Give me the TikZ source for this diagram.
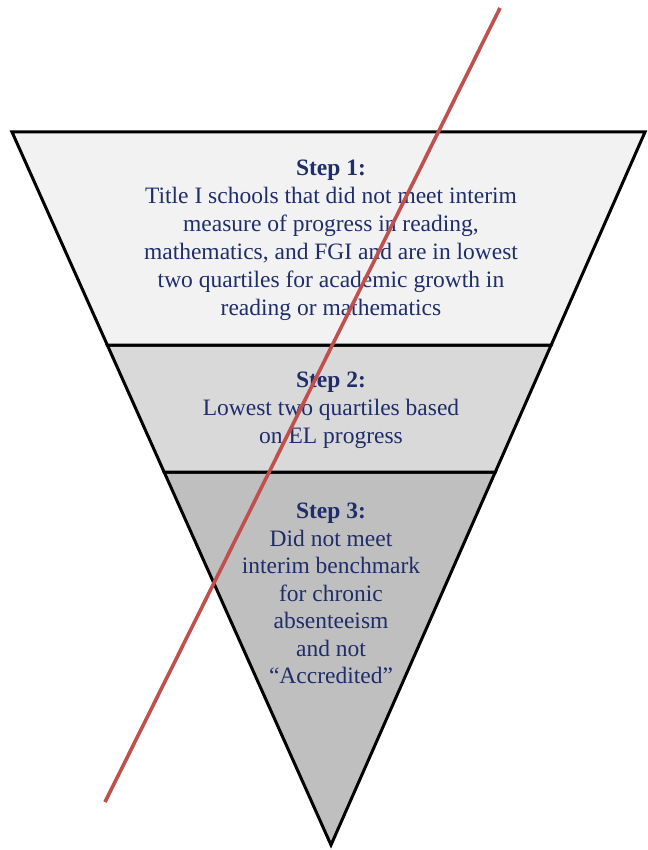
\documentclass[tikz,border=0pt]{standalone}
\usepackage{fontspec}
\setmainfont{Liberation Serif}
\definecolor{txt}{HTML}{1F2D6B}
\definecolor{bandA}{HTML}{F2F2F2}
\definecolor{bandB}{HTML}{D9D9D9}
\definecolor{bandC}{HTML}{BFBFBF}
\definecolor{slash}{HTML}{C0504D}
\begin{document}
\begin{tikzpicture}[x=1pt,y=-1pt,
  band/.style={draw=black,line width=3pt,line join=miter},
  steptext/.style={text=txt,align=center,inner sep=0pt,anchor=north,font=\fontsize{23.5}{28}\selectfont},
  slashline/.style={draw=slash,line width=3.6pt}]
\useasboundingbox (0,0) rectangle (647,850);
\filldraw[band,fill=bandC] (164.1,472) -- (495.3,472) -- (331,845) -- cycle;
\filldraw[band,fill=bandB] (107.3,345) -- (551.2,345) -- (495.3,472) -- (164.1,472) -- cycle;
\filldraw[band,fill=bandA] (12,132) -- (645,132) -- (551.2,345) -- (107.3,345) -- cycle;
\node[steptext] (s1) at (331,160) {\textbf{Step 1:}\\Title I schools that did not meet interim\\measure of progress in reading,\\mathematics, and FGI and are in lowest\\two quartiles for academic growth in\\reading or mathematics};
\node[steptext] (s2) at (331,372) {\textbf{Step 2:}\\Lowest two quartiles based\\on EL progress};
\node[steptext,font=\fontsize{23.5}{27.5}\selectfont] (s3) at (331,503) {\textbf{Step 3:}\\Did not meet\\interim benchmark\\for chronic\\absenteeism\\and not\\“Accredited”};
\coordinate (r1) at (500,8);
\coordinate (r2) at (105,802);
\draw[slashline] (r1) -- (r2);
\end{tikzpicture}
\end{document}
